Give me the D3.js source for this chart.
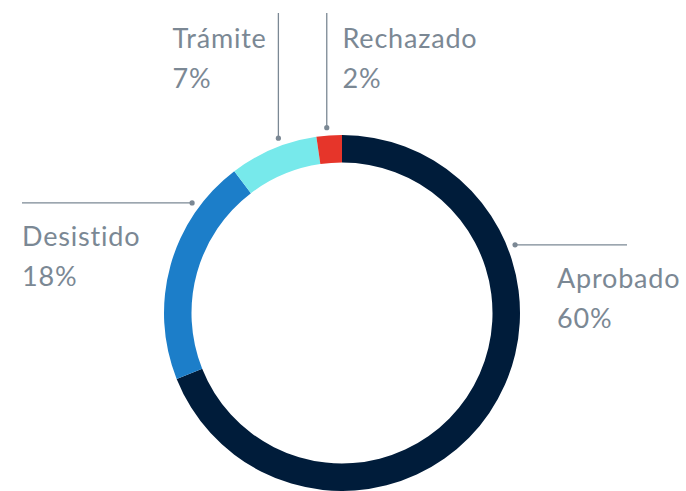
<!DOCTYPE html>
<html>
<head>
<meta charset="utf-8">
<script src="https://d3js.org/d3.v7.min.js"></script>
<style>
  body { margin: 0; background: #fff; }
  text { font-family: Lato, "Open Sans", sans-serif; fill: #7b8894; font-weight: 400; }
</style>
</head>
<body>
<svg width="686" height="491"></svg>
<script>
// data
var categories = ["Aprobado", "Desistido", "Trámite", "Rechazado"];
var values = [60, 18, 7, 2];
var labels = ["60%", "18%", "7%", "2%"];
var colors = ["#001c3a", "#1c7ec9", "#77e9eb", "#e6352a"];

var svg = d3.select("svg");
var cx = 342, cy = 313;
var outerR = 178, innerR = 150.5;

var data = categories.map(function(c, i) {
  return {name: c, value: values[i], label: labels[i], color: colors[i]};
});

var pie = d3.pie().sort(null).value(function(d) { return d.value; });
var arc = d3.arc().innerRadius(innerR).outerRadius(outerR);

var g = svg.append("g").attr("transform", "translate(" + cx + "," + cy + ")");

g.selectAll("path").data(pie(data)).enter().append("path")
  .attr("d", arc)
  .attr("fill", function(d) { return d.data.color; });

// leader lines: anchor angle (degrees), direction and end, label position
var leaders = [
  {angle: 68.5, dir: "h", end: 627, tx: 557, ty: 288},
  {angle: 306.3, dir: "h", end: 22, tx: 22, ty: 246},
  {angle: 340, dir: "v", end: 13, tx: 172.5, ty: 48},
  {angle: 355.3, dir: "v", end: 13, tx: 342.5, ty: 48}
];
var leaderR = outerR + 8;

leaders.forEach(function(l, i) {
  var p = d3.pointRadial(l.angle * Math.PI / 180, leaderR);
  var x0 = cx + p[0], y0 = cy + p[1];
  var x1 = l.dir === "h" ? l.end : x0;
  var y1 = l.dir === "h" ? y0 : l.end;
  svg.append("line")
    .attr("x1", x0).attr("y1", y0).attr("x2", x1).attr("y2", y1)
    .attr("stroke", "#7b8894").attr("stroke-width", 1.3);
  svg.append("circle")
    .attr("cx", x0).attr("cy", y0).attr("r", 2.6)
    .attr("fill", "#7b8894");

  var t = svg.append("text").attr("x", l.tx).attr("y", l.ty)
    .style("font-size", "27px").style("letter-spacing", "0.8px");
  t.append("tspan").attr("x", l.tx).text(data[i].name);
  t.append("tspan").attr("x", l.tx).attr("dy", 40).text(data[i].label);
});
</script>
</body>
</html>
